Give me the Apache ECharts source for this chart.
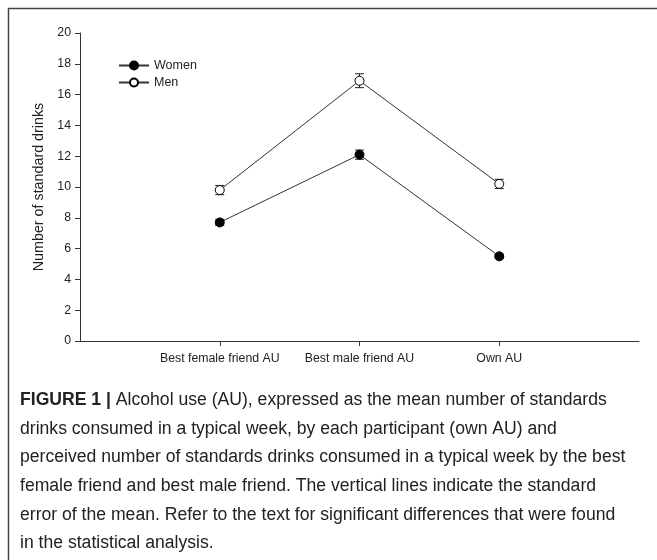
<!DOCTYPE html>
<html><head><meta charset="utf-8">
<script src="https://cdn.jsdelivr.net/npm/echarts@6/dist/echarts.min.js"></script>
<style>html,body{margin:0;padding:0;background:#fff}#c{width:657px;height:560px}</style>
</head><body><div id="c"></div>
<script>
const categories = ['', 'Best female friend AU', 'Best male friend AU', 'Own AU', ''];
const women = [null, 7.7, 12.1, 5.5, null];
const womenSE = [null, 0.2, 0.3, 0.15, null];
const men = [null, 9.8, 16.9, 10.2, null];
const menSE = [null, 0.3, 0.45, 0.3, null];
const yTicks = [0, 20, 2];
const captionLines = [
  'Alcohol use (AU), expressed as the mean number of standards',
  'drinks consumed in a typical week, by each participant (own AU) and',
  'perceived number of standards drinks consumed in a typical week by the best',
  'female friend and best male friend. The vertical lines indicate the standard',
  'error of the mean. Refer to the text for significant differences that were found',
  'in the statistical analysis.'
];

const chart = echarts.init(document.getElementById('c'));
const font = 'Liberation Sans, Arial, sans-serif';

function errData(vals, se) {
  const out = [];
  vals.forEach((v, i) => { if (v != null) out.push([i, v - se[i], v + se[i]]); });
  return out;
}
function renderErr(params, api) {
  const x = api.value(0);
  const lo = api.coord([x, api.value(1)]);
  const hi = api.coord([x, api.value(2)]);
  const w = 4.5;
  const st = { stroke: '#222', lineWidth: 1 };
  return { type: 'group', children: [
    { type: 'line', shape: { x1: lo[0], y1: lo[1], x2: hi[0], y2: hi[1] }, style: st },
    { type: 'line', shape: { x1: lo[0] - w, y1: lo[1], x2: lo[0] + w, y2: lo[1] }, style: st },
    { type: 'line', shape: { x1: hi[0] - w, y1: hi[1], x2: hi[0] + w, y2: hi[1] }, style: st }
  ]};
}

const graphics = [
  { type: 'line', shape: { x1: 8, y1: 8.5, x2: 657, y2: 8.5 }, style: { stroke: '#444', lineWidth: 1.5 } },
  { type: 'line', shape: { x1: 8.5, y1: 8, x2: 8.5, y2: 560 }, style: { stroke: '#444', lineWidth: 1.5 } }
];
captionLines.forEach((t, i) => {
  graphics.push({
    type: 'text', left: 20, top: 391 + i * 28.7,
    style: {
      text: i === 0 ? '{b|FIGURE 1 |} ' + t : t,
      font: '17.6px ' + font, fill: '#222',
      rich: { b: { fontWeight: 'bold', fontSize: 17.6, fontFamily: font, fill: '#222' } }
    }
  });
});

chart.setOption({
  animation: false,
  backgroundColor: '#fff',
  textStyle: { fontFamily: font },
  grid: { left: 80, right: 18, top: 33, bottom: 219, containLabel: false },
  legend: {
    orient: 'vertical', left: 113, top: 54, itemGap: 4, itemWidth: 30, itemHeight: 10,
    textStyle: { fontSize: 12.5, color: '#222', fontFamily: font },
    data: ['Women', 'Men']
  },
  xAxis: {
    type: 'category', data: categories, boundaryGap: false,
    axisLine: { lineStyle: { color: '#333', width: 1 } },
    axisTick: { length: 5, lineStyle: { color: '#333' }, interval: (i) => i > 0 && i < categories.length - 1 },
    axisLabel: { color: '#222', fontSize: 12.3, margin: 12, interval: 0 },
    splitLine: { show: false }
  },
  yAxis: {
    type: 'value', min: yTicks[0], max: yTicks[1], interval: yTicks[2],
    name: 'Number of standard drinks', nameLocation: 'middle', nameGap: 32,
    nameTextStyle: { fontSize: 14.3, color: '#222', fontFamily: font },
    axisLine: { show: true, lineStyle: { color: '#333', width: 1 } },
    axisTick: { show: true, length: 5, lineStyle: { color: '#333' } },
    axisLabel: { color: '#222', fontSize: 12.3, margin: 9 },
    splitLine: { show: false }
  },
  series: [
    { name: 'Women', type: 'line', data: women, connectNulls: false,
      symbol: 'circle', symbolSize: 9,
      lineStyle: { color: '#333', width: 1 },
      itemStyle: { color: '#000', borderColor: '#000', borderWidth: 1 }, z: 3 },
    { name: 'Men', type: 'line', data: men,
      symbol: 'circle', symbolSize: 9,
      lineStyle: { color: '#333', width: 1 },
      itemStyle: { color: '#fff', borderColor: '#000', borderWidth: 1 }, z: 3 },
    { type: 'custom', renderItem: renderErr, data: errData(women, womenSE), z: 2, silent: true },
    { type: 'custom', renderItem: renderErr, data: errData(men, menSE), z: 2, silent: true }
  ],
  graphic: graphics
});
</script></body></html>
